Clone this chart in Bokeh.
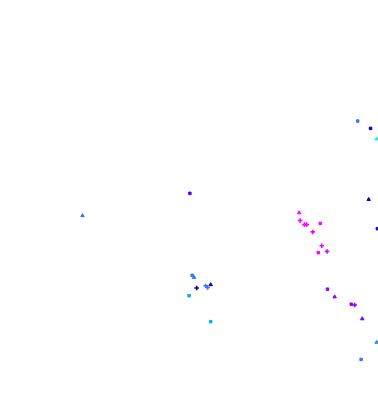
from bokeh.plotting import figure
from bokeh.models import Range1d, ColumnDataSource
from bokeh.embed import file_html
from bokeh.resources import INLINE

x_vals = [94.5, 97.9, 99.5, 97.4, 99.7, 79.0, 79.3, 80.4, 81.0, 84.6, 82.6, 85.0, 84.1, 86.4,
          86.5, 88.4, 92.8, 93.7, 95.7, 99.5, 95.4, 50.1, 50.7, 51.2, 51.9, 54.3, 54.8, 55.6,
          49.9, 55.6, 21.7]
y_vals = [70.3, 68.5, 65.9, 51.0, 43.8, 47.7, 45.8, 44.8, 44.8, 45.1, 43.0, 39.6, 37.9, 38.2,
          28.9, 27.0, 25.2, 25.0, 21.6, 15.8, 11.6, 52.5, 32.3, 31.8, 29.2, 29.7, 29.3, 30.0,
          27.3, 20.9, 47.0]
markers = ["square", "square", "triangle", "triangle", "square", "triangle", "cross", "cross",
           "cross", "square", "cross", "cross", "square", "cross",
           "square", "triangle", "square", "cross", "triangle", "triangle", "square", "square",
           "square", "triangle", "cross", "cross", "cross", "triangle",
           "square", "square", "triangle"]
colors = ["#3377ff", "#0000cc", "#00ffcc", "#0000cc", "#2200dd", "#ff00ff", "#ff00ff", "#ff00ff",
          "#ff00ff", "#ff00ff", "#ff00ff", "#ff00ff", "#ff00ff", "#aa22ff",
          "#9900ff", "#9900ff", "#9900ff", "#8800ff", "#6600ff", "#3388ff", "#3377ff", "#5500ff",
          "#3377ff", "#3377ff", "#0000cc", "#3377ff", "#3377ff", "#0000cc",
          "#00aaff", "#00aaff", "#3377ff"]
sizes = [2.5 if m == "square" else (4.5 if m == "cross" else 3.5) for m in markers]
widths = [1.6 if m == "cross" else 1 for m in markers]

src = ColumnDataSource(dict(x=x_vals, y=y_vals, marker=markers, color=colors, size=sizes, lw=widths))

p = figure(width=378, height=406, output_backend="svg", toolbar_location=None,
           x_range=Range1d(0, 100), y_range=Range1d(0, 100), min_border=0)
p.axis.visible = False
p.grid.visible = False
p.outline_line_color = None
p.scatter("x", "y", source=src, marker="marker", size="size", fill_color="color",
          line_color="color", line_width="lw")

open("out.html", "w").write(file_html(p, INLINE))
